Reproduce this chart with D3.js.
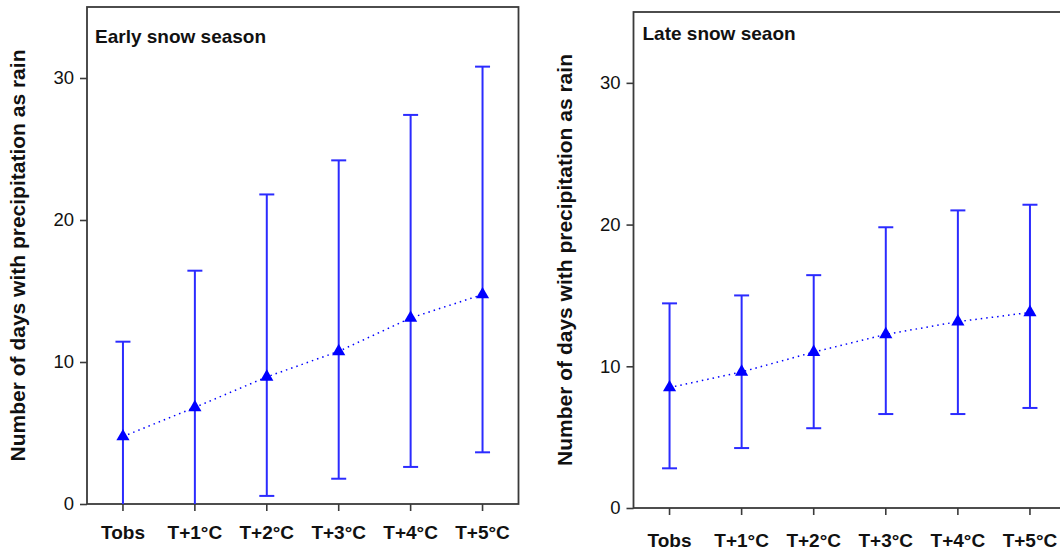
<!DOCTYPE html>
<html>
<head>
<meta charset="utf-8">
<script src="https://cdn.jsdelivr.net/npm/d3@7"></script>
<style>
  html, body { margin: 0; padding: 0; background: #fff; }
  svg { display: block; }
  text { font-family: "Liberation Sans", Arial, Helvetica, sans-serif; fill: #111; }
</style>
</head>
<body>
<svg id="chart" width="1060" height="551"></svg>
<script>
// Warming scenarios on the x axis
const categories = ["Tobs", "T+1°C", "T+2°C", "T+3°C", "T+4°C", "T+5°C"];
const yTicks = [0, 10, 20, 30];

// Early snow season: mean days with rain, with range (low/high)
const earlyMean = [4.75, 6.8, 8.95, 10.75, 13.1, 14.75];
const earlyLow  = [0, 0, 0.57, 1.78, 2.61, 3.64];
const earlyHigh = [11.43, 16.43, 21.8, 24.2, 27.4, 30.8];

// Late snow season
const lateMean = [8.5, 9.6, 11.0, 12.25, 13.15, 13.8];
const lateLow  = [2.8, 4.23, 5.63, 6.63, 6.63, 7.06];
const lateHigh = [14.44, 15.0, 16.43, 19.81, 21.0, 21.4];

const panelTitles = ["Early snow season", "Late snow seaon"];
const yTitle = "Number of days with precipitation as rain";

const svg = d3.select("#chart");

const panels = [
  { title: panelTitles[0], mean: earlyMean, low: earlyLow, high: earlyHigh,
    x0: 87, x1: 518.5, top: 7, bottom: 504, labelOffset: 35, yTitleX: 25,
    titleX: 95, titleY: 42.5 },
  { title: panelTitles[1], mean: lateMean, low: lateLow, high: lateHigh,
    x0: 633.5, x1: 1066, top: 12, bottom: 508, labelOffset: 39, yTitleX: 572,
    titleX: 642.5, titleY: 40 }
];

const barColor = "#2b2bff";
const markColor = "#0000ff";
const frameColor = "#3a3a3a";

panels.forEach(p => {
  const g = svg.append("g");

  const x = d3.scaleBand().domain(categories).range([p.x0, p.x1]);
  const y = d3.scaleLinear().domain([0, 35]).range([p.bottom, p.top]);
  const cx = c => x(c) + x.bandwidth() / 2;

  // Y axis
  const yAxis = g.append("g")
    .attr("transform", `translate(${p.x0},0)`)
    .call(d3.axisLeft(y).tickValues(yTicks).tickSize(7).tickPadding(6));
  yAxis.select(".domain").remove();
  yAxis.selectAll(".tick line").attr("stroke", frameColor).attr("stroke-width", 1.6);
  yAxis.selectAll(".tick text")
    .attr("font-size", 18.5)
    .attr("font-family", "Liberation Sans, Arial, sans-serif")
    .attr("fill", "#111");

  // X axis
  const xAxis = g.append("g")
    .attr("transform", `translate(0,${p.bottom})`)
    .call(d3.axisBottom(x).tickSize(7));
  xAxis.select(".domain").remove();
  xAxis.selectAll(".tick line").attr("stroke", frameColor).attr("stroke-width", 1.6);
  xAxis.selectAll(".tick text")
    .attr("y", p.labelOffset)
    .attr("dy", 0)
    .attr("font-size", 19)
    .attr("font-weight", "bold")
    .attr("font-family", "Liberation Sans, Arial, sans-serif")
    .attr("fill", "#111");

  // Frame
  g.append("rect")
    .attr("x", p.x0).attr("y", p.top)
    .attr("width", p.x1 - p.x0).attr("height", p.bottom - p.top)
    .attr("fill", "none").attr("stroke", frameColor).attr("stroke-width", 1.8);

  // Panel title
  g.append("text")
    .attr("x", p.titleX).attr("y", p.titleY)
    .attr("font-size", 19).attr("font-weight", "bold")
    .text(p.title);

  // Y axis title
  g.append("text")
    .attr("transform", `translate(${p.yTitleX},${(p.top + p.bottom) / 2}) rotate(-90)`)
    .attr("text-anchor", "middle")
    .attr("font-size", 21).attr("font-weight", "bold")
    .text(yTitle);

  const rows = categories.map((c, i) => ({ c, mean: p.mean[i], low: p.low[i], high: p.high[i] }));

  // Range bars
  const bars = g.append("g").attr("stroke", barColor).attr("stroke-width", 2).attr("fill", "none");
  bars.selectAll("line.v").data(rows).join("line")
    .attr("class", "v")
    .attr("x1", d => cx(d.c)).attr("x2", d => cx(d.c))
    .attr("y1", d => y(d.low)).attr("y2", d => y(d.high));
  bars.selectAll("line.hi").data(rows).join("line")
    .attr("class", "hi")
    .attr("x1", d => cx(d.c) - 7.5).attr("x2", d => cx(d.c) + 7.5)
    .attr("y1", d => y(d.high)).attr("y2", d => y(d.high));
  bars.selectAll("line.lo").data(rows.filter(d => d.low > 0)).join("line")
    .attr("class", "lo")
    .attr("x1", d => cx(d.c) - 7.5).attr("x2", d => cx(d.c) + 7.5)
    .attr("y1", d => y(d.low)).attr("y2", d => y(d.low));

  // Dotted line through the means
  const line = d3.line().x(d => cx(d.c)).y(d => y(d.mean));
  g.append("path")
    .datum(rows)
    .attr("d", line)
    .attr("fill", "none")
    .attr("stroke", markColor)
    .attr("stroke-width", 1.5)
    .attr("stroke-dasharray", "1.5,4");

  // Triangle markers
  g.selectAll("path.mark").data(rows).join("path")
    .attr("class", "mark")
    .attr("transform", d => `translate(${cx(d.c)},${y(d.mean)})`)
    .attr("d", d3.symbol().type(d3.symbolTriangle).size(75))
    .attr("fill", markColor);
});
</script>
</body>
</html>
